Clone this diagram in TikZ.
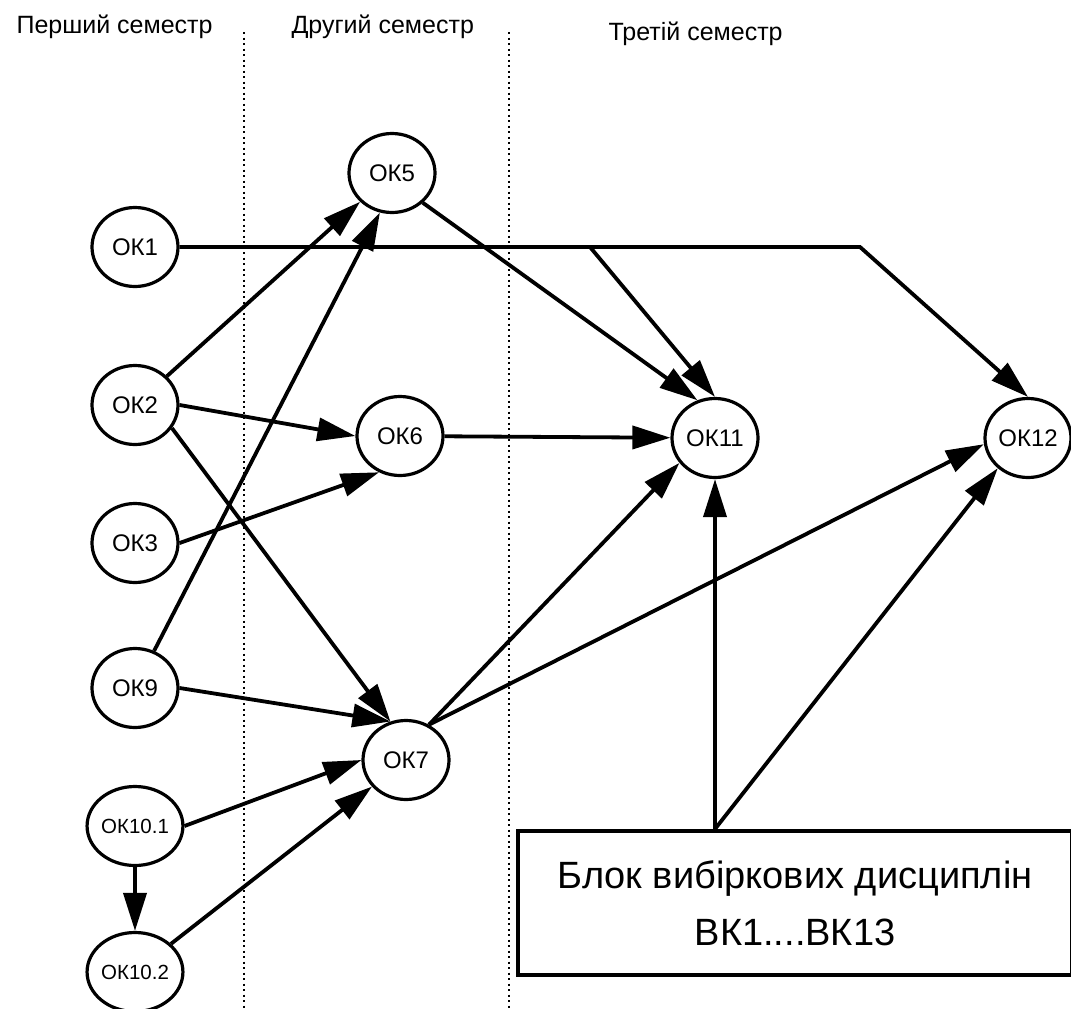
\documentclass[tikz,border=0pt]{standalone}
\usepackage{fontspec}
\setmainfont{Liberation Sans}
\usetikzlibrary{arrows.meta,shapes.geometric}

\begin{document}
\begin{tikzpicture}[x=1pt,y=-1pt,
        kurs/.style={draw,ellipse,line width=3.2pt,minimum width=86pt,minimum height=79pt,inner sep=0pt,font=\fontsize{24}{28}\selectfont},
        kursm/.style={kurs,font=\fontsize{20.5}{24}\selectfont},
        arr/.style={line width=3.8pt,-{Triangle[length=38pt,width=23pt]}},
        sem/.style={anchor=base west,font=\fontsize{25}{30}\selectfont},
        sep/.style={line width=2pt,dash pattern=on 2pt off 3.5pt}]
    \useasboundingbox (0,0) rectangle (1071,1009);
    % semesters
    \node[sem] (s1) at (13,33) {Перший семестр};
    \node[sem] (s2) at (288,33) {Другий семестр};
    \node[sem] (s3) at (605,40) {Третій семестр};
    \draw[sep] (244,32) -- (244,1009);
    \draw[sep] (509,32) -- (509,1009);
    % courses
    \node[kurs] (ok1) at (135,247) {ОК1};
    \node[kurs] (ok2) at (135,405) {ОК2};
    \node[kurs] (ok3) at (135,543) {ОК3};
    \node[kurs] (ok9) at (135,688) {ОК9};
    \node[kursm] (ok101) at (135,826) {ОК10.1};
    \node[kursm] (ok102) at (135,972) {ОК10.2};
    \node[kurs] (ok5) at (392,173) {ОК5};
    \node[kurs] (ok6) at (400,436) {ОК6};
    \node[kurs] (ok7) at (406,760) {ОК7};
    \node[kurs] (ok11) at (715,438) {ОК11};
    \node[kurs] (ok12) at (1028,438) {ОК12};
    \node[draw,line width=4pt,minimum width=554pt,minimum height=144pt,align=center,
          font=\fontsize{38}{57}\selectfont] (blk) at (795,903) {Блок вибіркових дисциплін\\ВК1....ВК13};
    % links
    \coordinate (k1) at (590,247);
    \coordinate (k2) at (860,247);
    \draw[arr] (ok1) -- (k2) -- (ok12.north);
    \draw[arr] (k1) -- (ok11.north);
    \draw[arr] (ok2) -- (ok5);
    \draw[arr] (ok2.east) -- (ok6.west);
    \draw[arr] (ok2.-32) -- (ok7.112);
    \draw[arr] (ok3.east) -- (ok6.240);
    \draw[arr] (ok9) -- (ok5.253);
    \draw[arr] (ok9.east) -- (ok7.112);
    \draw[arr] (ok101.east) -- (ok7.west);
    \draw[arr] (ok102) -- (ok7);
    \draw[arr] (ok101) -- (ok102);
    \draw[arr] (ok5.-44) -- (ok11.115);
    \draw[arr] (ok6) -- (ok11);
    \draw[arr] (ok7.57) -- (ok11.215);
    \draw[arr] (ok7.57) -- (ok12.188);
    \draw[arr] (blk.north -| ok11) -- (ok11);
    \draw[arr] (blk.north -| ok11) -- (ok12.225);
\end{tikzpicture}
\end{document}
